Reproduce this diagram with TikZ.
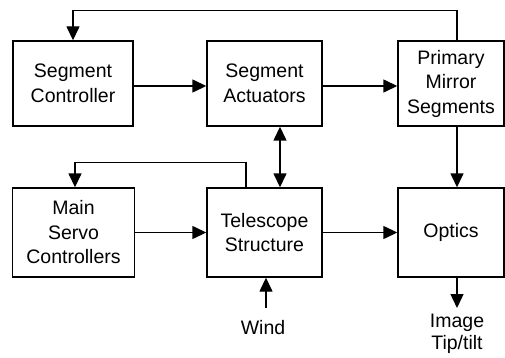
\documentclass[tikz,border=0pt]{standalone}
\usepackage{fontspec}
\setmainfont{Liberation Sans}
\usetikzlibrary{arrows.meta}
\begin{document}
\begin{tikzpicture}[x=1pt,y=-1pt,
  box/.style={draw, line width=1.4pt, minimum height=85pt, align=center, inner sep=0pt,
    font=\fontsize{19.5}{24.5}\selectfont},
  lbl/.style={align=center, inner sep=0pt, font=\fontsize{19.5}{22}\selectfont},
  arr/.style={line width=1.4pt, -{Triangle[length=14pt,width=13pt]}},
  darr/.style={line width=1.4pt, {Triangle[length=14pt,width=13pt]}-{Triangle[length=14pt,width=13pt]}},
  ln/.style={line width=1.4pt}]
\useasboundingbox (0,0) rectangle (505,358);
\node[box, minimum width=120pt] (segc) at (73,83.5) {Segment\\Controller};
\node[box, minimum width=115pt] (sega) at (264.5,83.5) {Segment\\Actuators};
\node[box, minimum width=106pt] (prim) at (451,83.5) {Primary\\Mirror\\Segments};
\node[box, minimum width=122pt, minimum height=89pt] (ms) at (73.5,232.5) {Main\\Servo\\Controllers};
\node[box, minimum width=115pt, minimum height=89pt] (tel) at (264.5,232.5) {Telescope\\Structure};
\node[box, minimum width=106pt, minimum height=89pt] (opt) at (451,232.5) {Optics};
\node[lbl] (wind) at (263,328) {Wind};
\node[lbl] (img) at (457,334) {Image\\Tip/tilt};
\coordinate (w0) at (266,308);
\coordinate (o1) at (457,308);
\draw[arr] ([yshift=-2.5pt]segc.east) -- ([yshift=-2.5pt]sega.west);
\draw[arr] ([yshift=-2.5pt]sega.east) -- ([yshift=-2.5pt]prim.west);
\draw[arr] (ms.east) -- (tel.west);
\draw[arr] (tel.east) -- (opt.west);
\draw[darr] ([xshift=15.5pt]sega.south) -- ([xshift=15.5pt]tel.north);
\draw[arr] ([xshift=6pt]prim.south) -- ([xshift=6pt]opt.north);
\draw[arr] ([xshift=6pt]prim.north) -- ++(0,-30) -| (segc.north);
\draw[arr] ([xshift=-18.5pt]tel.north) -- ++(0,-25) -| ([xshift=1.5pt]ms.north);
\draw[arr] (w0) -- (w0 |- tel.south);
\draw[arr] (o1 |- opt.south) -- (o1);
\end{tikzpicture}
\end{document}
